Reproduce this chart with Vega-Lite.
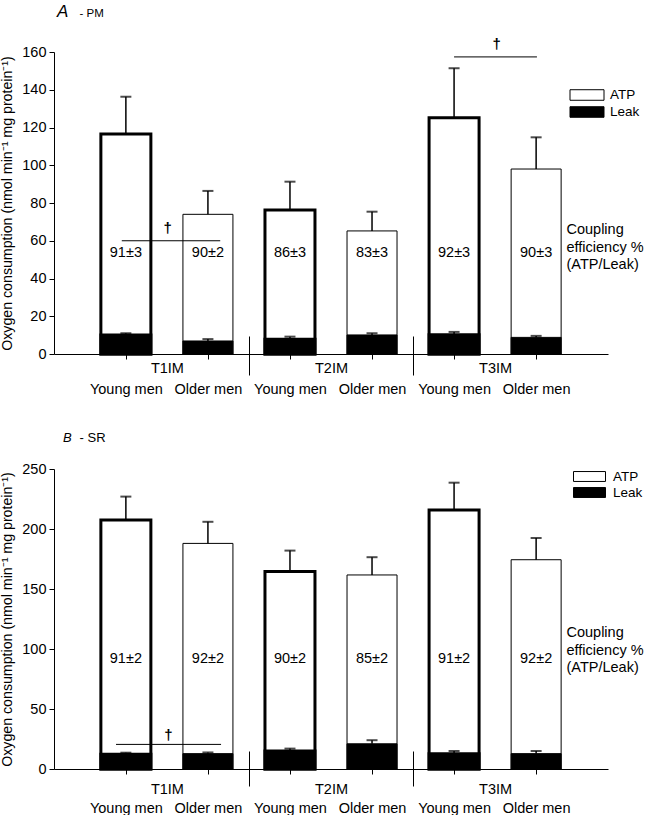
{
  "$schema": "https://vega.github.io/schema/vega-lite/v6.json",
  "padding": {"left": 0, "top": 3, "right": 0, "bottom": 0},
  "background": "white",
  "config": {
    "font": "Liberation Sans",
    "view": {"stroke": null},
    "axis": {"grid": false, "labelOverlap": false, "domainColor": "black", "tickColor": "black", "labelColor": "black", "titleColor": "black", "labelFontSize": 14.5, "titleFontSize": 14.2, "titleFontWeight": "normal", "domainWidth": 1, "tickWidth": 1},
    "legend": {"labelColor": "black", "padding": 0}
  },
  "datasets": {
    "pm": [
      {"group": "T1IM", "age": "Young men", "slot": 1, "part": "ATP", "value": 116.5, "upper": 136.3, "ce": "91±3"},
      {"group": "T1IM", "age": "Older men", "slot": 2, "part": "ATP", "value": 74, "upper": 86.4, "ce": "90±2"},
      {"group": "T2IM", "age": "Young men", "slot": 3, "part": "ATP", "value": 76.3, "upper": 91.3, "ce": "86±3"},
      {"group": "T2IM", "age": "Older men", "slot": 4, "part": "ATP", "value": 65.2, "upper": 75.4, "ce": "83±3"},
      {"group": "T3IM", "age": "Young men", "slot": 5, "part": "ATP", "value": 125.2, "upper": 151.4, "ce": "92±3"},
      {"group": "T3IM", "age": "Older men", "slot": 6, "part": "ATP", "value": 98, "upper": 114.8, "ce": "90±3"},
      {"group": "T1IM", "age": "Young men", "slot": 1, "part": "Leak", "value": 10.1, "upper": 11},
      {"group": "T1IM", "age": "Older men", "slot": 2, "part": "Leak", "value": 6.9, "upper": 7.9},
      {"group": "T2IM", "age": "Young men", "slot": 3, "part": "Leak", "value": 7.8, "upper": 9.2},
      {"group": "T2IM", "age": "Older men", "slot": 4, "part": "Leak", "value": 10.1, "upper": 11},
      {"group": "T3IM", "age": "Young men", "slot": 5, "part": "Leak", "value": 10.2, "upper": 11.7},
      {"group": "T3IM", "age": "Older men", "slot": 6, "part": "Leak", "value": 8.8, "upper": 9.6}
    ],
    "sr": [
      {"group": "T1IM", "age": "Young men", "slot": 1, "part": "ATP", "value": 207.5, "upper": 227, "ce": "91±2"},
      {"group": "T1IM", "age": "Older men", "slot": 2, "part": "ATP", "value": 188, "upper": 206, "ce": "92±2"},
      {"group": "T2IM", "age": "Young men", "slot": 3, "part": "ATP", "value": 164.5, "upper": 182, "ce": "90±2"},
      {"group": "T2IM", "age": "Older men", "slot": 4, "part": "ATP", "value": 161.7, "upper": 176.5, "ce": "85±2"},
      {"group": "T3IM", "age": "Young men", "slot": 5, "part": "ATP", "value": 215.8, "upper": 238.6, "ce": "91±2"},
      {"group": "T3IM", "age": "Older men", "slot": 6, "part": "ATP", "value": 174.4, "upper": 192.5, "ce": "92±2"},
      {"group": "T1IM", "age": "Young men", "slot": 1, "part": "Leak", "value": 12.2, "upper": 13.6},
      {"group": "T1IM", "age": "Older men", "slot": 2, "part": "Leak", "value": 12.8, "upper": 13.8},
      {"group": "T2IM", "age": "Young men", "slot": 3, "part": "Leak", "value": 15, "upper": 17},
      {"group": "T2IM", "age": "Older men", "slot": 4, "part": "Leak", "value": 21, "upper": 24},
      {"group": "T3IM", "age": "Young men", "slot": 5, "part": "Leak", "value": 12.8, "upper": 15},
      {"group": "T3IM", "age": "Older men", "slot": 6, "part": "Leak", "value": 12.8, "upper": 15}
    ],
    "sigA": [
      {"from": 0.95, "to": 2.15, "y": 60, "mx": 1.51, "my": 66.8},
      {"from": 5.0, "to": 6.01, "y": 157.4, "mx": 5.52, "my": 164.5}
    ],
    "sigB": [
      {"from": 0.88, "to": 2.16, "y": 20.5, "mx": 1.52, "my": 28.3}
    ],
    "note": [
      {"t": "Coupling\nefficiency %\n(ATP/Leak)"}
    ]
  },
  "resolve": {"scale": {"fill": "independent", "strokeWidth": "independent"}, "legend": {"fill": "independent"}},
  "spacing": 35,
  "vconcat": [
    {
      "width": 554,
      "height": 302,
      "resolve": {"axis": {"x": "independent"}},
      "layer": [
        {
          "data": {"name": "pm"},
          "mark": {"type": "bar", "size": 50, "stroke": "black"},
          "encoding": {
            "x": {"field": "slot", "type": "quantitative", "scale": {"domain": [0.185, 6.815], "nice": false, "zero": false},
              "axis": {"orient": "bottom", "values": [1, 2, 3, 4, 5, 6], "labelExpr": "datum.value % 2 == 1 ? 'Young men' : 'Older men'", "tickSize": 5, "labelPadding": 23, "title": null, "labelFlush": false}},
            "y": {"field": "value", "type": "quantitative", "stack": null, "scale": {"domain": [0, 160], "nice": false},
              "axis": {"values": [0, 20, 40, 60, 80, 100, 120, 140, 160], "tickSize": 5, "labelPadding": 3, "title": "Oxygen consumption (nmol min\u207b\u00b9 mg protein\u207b\u00b9)", "titlePadding": 7}},
            "fill": {"field": "part", "type": "nominal", "scale": {"domain": ["ATP", "Leak"], "range": ["white", "black"]},
              "legend": {"title": null, "orient": "none", "legendX": 524, "legendY": 34, "symbolType": "M-2,-0.62H2V0.62H-2Z", "symbolSize": 289, "symbolStrokeColor": "black", "symbolStrokeWidth": 1, "labelFontSize": 13.5, "labelOffset": 14, "rowPadding": 0}},
            "strokeWidth": {"field": "age", "type": "nominal", "scale": {"domain": ["Young men", "Older men"], "range": [3, 1]}, "legend": null}
          }
        },
        {
          "data": {"name": "pm"},
          "mark": {"type": "rule", "color": "black", "strokeWidth": 1.5},
          "encoding": {
            "x": {"field": "slot", "type": "quantitative",
              "axis": {"orient": "bottom", "values": [1.5, 3.5, 5.5], "labelExpr": "datum.value < 2 ? 'T1IM' : datum.value < 4 ? 'T2IM' : 'T3IM'", "ticks": false, "tickSize": 0, "domain": false, "labelPadding": 7, "title": null, "labelFlush": false}},
            "y": {"field": "value", "type": "quantitative",
              "axis": {"values": [0, 20, 40, 60, 80, 100, 120, 140, 160], "tickSize": 5, "labelPadding": 3, "title": "Oxygen consumption (nmol min\u207b\u00b9 mg protein\u207b\u00b9)", "titlePadding": 7}},
            "y2": {"field": "upper"}
          }
        },
        {
          "data": {"name": "pm"},
          "mark": {"type": "tick", "orient": "horizontal", "color": "black", "size": 11, "thickness": 2},
          "encoding": {
            "x": {"field": "slot", "type": "quantitative",
              "axis": {"orient": "bottom", "values": [2.5, 4.5], "labels": false, "domain": false, "tickSize": 21, "title": null}},
            "y": {"field": "upper", "type": "quantitative",
              "axis": {"values": [0, 20, 40, 60, 80, 100, 120, 140, 160], "tickSize": 5, "labelPadding": 3, "title": "Oxygen consumption (nmol min\u207b\u00b9 mg protein\u207b\u00b9)", "titlePadding": 7}}
          }
        },
        {
          "data": {"name": "pm"},
          "transform": [{"filter": "datum.part == 'ATP'"}],
          "mark": {"type": "text", "fontSize": 14.5, "color": "black", "baseline": "middle"},
          "encoding": {
            "x": {"field": "slot", "type": "quantitative",
              "axis": {"orient": "bottom", "values": [2.5, 4.5], "labels": false, "domain": false, "tickSize": -18, "title": null}},
            "y": {"datum": 53.5, "type": "quantitative",
              "axis": {"values": [0, 20, 40, 60, 80, 100, 120, 140, 160], "tickSize": 5, "labelPadding": 3, "title": "Oxygen consumption (nmol min\u207b\u00b9 mg protein\u207b\u00b9)", "titlePadding": 7}},
            "text": {"field": "ce"}
          }
        },
        {
          "data": {"name": "sigA"},
          "mark": {"type": "rule", "color": "black", "strokeWidth": 1},
          "encoding": {
            "x": {"field": "from", "type": "quantitative", "axis": null},
            "x2": {"field": "to"},
            "y": {"field": "y", "type": "quantitative",
              "axis": {"values": [0, 20, 40, 60, 80, 100, 120, 140, 160], "tickSize": 5, "labelPadding": 3, "title": "Oxygen consumption (nmol min\u207b\u00b9 mg protein\u207b\u00b9)", "titlePadding": 7}}
          }
        },
        {
          "data": {"name": "sigA"},
          "mark": {"type": "text", "text": "\u2020", "fontSize": 15, "fontWeight": "bold", "color": "black", "baseline": "middle"},
          "encoding": {
            "x": {"field": "mx", "type": "quantitative", "axis": null},
            "y": {"field": "my", "type": "quantitative",
              "axis": {"values": [0, 20, 40, 60, 80, 100, 120, 140, 160], "tickSize": 5, "labelPadding": 3, "title": "Oxygen consumption (nmol min\u207b\u00b9 mg protein\u207b\u00b9)", "titlePadding": 7}}
          }
        },
        {
          "data": {"name": "note"},
          "mark": {"type": "text", "align": "left", "baseline": "top", "fontSize": 14.5, "lineBreak": "\n", "lineHeight": 17.5, "color": "black"},
          "encoding": {
            "x": {"datum": 6.37, "type": "quantitative", "axis": null},
            "y": {"datum": 69.3, "type": "quantitative",
              "axis": {"values": [0, 20, 40, 60, 80, 100, 120, 140, 160], "tickSize": 5, "labelPadding": 3, "title": "Oxygen consumption (nmol min\u207b\u00b9 mg protein\u207b\u00b9)", "titlePadding": 7}},
            "text": {"field": "t"}
          }
        },
        {
          "data": {"values": [{"t": "A"}]},
          "mark": {"type": "text", "align": "left", "baseline": "alphabetic", "color": "black", "fontSize": 17, "fontStyle": "italic"},
          "encoding": {
            "x": {"datum": 0.161, "type": "quantitative", "axis": null},
            "y": {"datum": 178.5, "type": "quantitative",
              "axis": {"values": [0, 20, 40, 60, 80, 100, 120, 140, 160], "tickSize": 5, "labelPadding": 3, "title": "Oxygen consumption (nmol min\u207b\u00b9 mg protein\u207b\u00b9)", "titlePadding": 7}},
            "text": {"field": "t"}
          }
        },
        {
          "data": {"values": [{"t": "- PM"}]},
          "mark": {"type": "text", "align": "left", "baseline": "alphabetic", "color": "black", "fontSize": 11.5},
          "encoding": {
            "x": {"datum": 0.436, "type": "quantitative", "axis": null},
            "y": {"datum": 178.5, "type": "quantitative",
              "axis": {"values": [0, 20, 40, 60, 80, 100, 120, 140, 160], "tickSize": 5, "labelPadding": 3, "title": "Oxygen consumption (nmol min\u207b\u00b9 mg protein\u207b\u00b9)", "titlePadding": 7}},
            "text": {"field": "t"}
          }
        }
      ]
    },
    {
      "width": 554,
      "height": 300,
      "resolve": {"axis": {"x": "independent"}},
      "layer": [
        {
          "data": {"name": "sr"},
          "mark": {"type": "bar", "size": 50, "stroke": "black"},
          "encoding": {
            "x": {"field": "slot", "type": "quantitative", "scale": {"domain": [0.185, 6.815], "nice": false, "zero": false},
              "axis": {"orient": "bottom", "values": [1, 2, 3, 4, 5, 6], "labelExpr": "datum.value % 2 == 1 ? 'Young men' : 'Older men'", "tickSize": 5, "labelPadding": 27, "title": null, "labelFlush": false}},
            "y": {"field": "value", "type": "quantitative", "stack": null, "scale": {"domain": [0, 250], "nice": false},
              "axis": {"values": [0, 50, 100, 150, 200, 250], "tickSize": 5, "labelPadding": 3, "title": "Oxygen consumption (nmol min\u207b\u00b9 mg protein\u207b\u00b9)", "titlePadding": 7}},
            "fill": {"field": "part", "type": "nominal", "scale": {"domain": ["ATP", "Leak"], "range": ["white", "black"]},
              "legend": {"title": null, "orient": "none", "legendX": 527, "legendY": -1, "symbolType": "M-2,-0.62H2V0.62H-2Z", "symbolSize": 256, "symbolStrokeColor": "black", "symbolStrokeWidth": 1, "labelFontSize": 13.5, "labelOffset": 15, "rowPadding": 0}},
            "strokeWidth": {"field": "age", "type": "nominal", "scale": {"domain": ["Young men", "Older men"], "range": [3, 1]}, "legend": null}
          }
        },
        {
          "data": {"name": "sr"},
          "mark": {"type": "rule", "color": "black", "strokeWidth": 1.5},
          "encoding": {
            "x": {"field": "slot", "type": "quantitative",
              "axis": {"orient": "bottom", "values": [1.5, 3.5, 5.5], "labelExpr": "datum.value < 2 ? 'T1IM' : datum.value < 4 ? 'T2IM' : 'T3IM'", "ticks": false, "tickSize": 0, "domain": false, "labelPadding": 13, "title": null, "labelFlush": false}},
            "y": {"field": "value", "type": "quantitative",
              "axis": {"values": [0, 50, 100, 150, 200, 250], "tickSize": 5, "labelPadding": 3, "title": "Oxygen consumption (nmol min\u207b\u00b9 mg protein\u207b\u00b9)", "titlePadding": 7}},
            "y2": {"field": "upper"}
          }
        },
        {
          "data": {"name": "sr"},
          "mark": {"type": "tick", "orient": "horizontal", "color": "black", "size": 11, "thickness": 2},
          "encoding": {
            "x": {"field": "slot", "type": "quantitative",
              "axis": {"orient": "bottom", "values": [2.5, 4.5], "labels": false, "domain": false, "tickSize": 17, "title": null}},
            "y": {"field": "upper", "type": "quantitative",
              "axis": {"values": [0, 50, 100, 150, 200, 250], "tickSize": 5, "labelPadding": 3, "title": "Oxygen consumption (nmol min\u207b\u00b9 mg protein\u207b\u00b9)", "titlePadding": 7}}
          }
        },
        {
          "data": {"name": "sr"},
          "transform": [{"filter": "datum.part == 'ATP'"}],
          "mark": {"type": "text", "fontSize": 14.5, "color": "black", "baseline": "middle"},
          "encoding": {
            "x": {"field": "slot", "type": "quantitative",
              "axis": {"orient": "bottom", "values": [2.5, 4.5], "labels": false, "domain": false, "tickSize": -18, "title": null}},
            "y": {"datum": 91.5, "type": "quantitative",
              "axis": {"values": [0, 50, 100, 150, 200, 250], "tickSize": 5, "labelPadding": 3, "title": "Oxygen consumption (nmol min\u207b\u00b9 mg protein\u207b\u00b9)", "titlePadding": 7}},
            "text": {"field": "ce"}
          }
        },
        {
          "data": {"name": "sigB"},
          "mark": {"type": "rule", "color": "black", "strokeWidth": 1},
          "encoding": {
            "x": {"field": "from", "type": "quantitative", "axis": null},
            "x2": {"field": "to"},
            "y": {"field": "y", "type": "quantitative",
              "axis": {"values": [0, 50, 100, 150, 200, 250], "tickSize": 5, "labelPadding": 3, "title": "Oxygen consumption (nmol min\u207b\u00b9 mg protein\u207b\u00b9)", "titlePadding": 7}}
          }
        },
        {
          "data": {"name": "sigB"},
          "mark": {"type": "text", "text": "\u2020", "fontSize": 15, "fontWeight": "bold", "color": "black", "baseline": "middle"},
          "encoding": {
            "x": {"field": "mx", "type": "quantitative", "axis": null},
            "y": {"field": "my", "type": "quantitative",
              "axis": {"values": [0, 50, 100, 150, 200, 250], "tickSize": 5, "labelPadding": 3, "title": "Oxygen consumption (nmol min\u207b\u00b9 mg protein\u207b\u00b9)", "titlePadding": 7}}
          }
        },
        {
          "data": {"name": "note"},
          "mark": {"type": "text", "align": "left", "baseline": "top", "fontSize": 14.5, "lineBreak": "\n", "lineHeight": 17.5, "color": "black"},
          "encoding": {
            "x": {"datum": 6.37, "type": "quantitative", "axis": null},
            "y": {"datum": 118.8, "type": "quantitative",
              "axis": {"values": [0, 50, 100, 150, 200, 250], "tickSize": 5, "labelPadding": 3, "title": "Oxygen consumption (nmol min\u207b\u00b9 mg protein\u207b\u00b9)", "titlePadding": 7}},
            "text": {"field": "t"}
          }
        },
        {
          "data": {"values": [{"t": "B"}]},
          "mark": {"type": "text", "align": "left", "baseline": "alphabetic", "color": "black", "fontSize": 13, "fontStyle": "italic"},
          "encoding": {
            "x": {"datum": 0.233, "type": "quantitative", "axis": null},
            "y": {"datum": 272.5, "type": "quantitative",
              "axis": {"values": [0, 50, 100, 150, 200, 250], "tickSize": 5, "labelPadding": 3, "title": "Oxygen consumption (nmol min\u207b\u00b9 mg protein\u207b\u00b9)", "titlePadding": 7}},
            "text": {"field": "t"}
          }
        },
        {
          "data": {"values": [{"t": "- SR"}]},
          "mark": {"type": "text", "align": "left", "baseline": "alphabetic", "color": "black", "fontSize": 13},
          "encoding": {
            "x": {"datum": 0.436, "type": "quantitative", "axis": null},
            "y": {"datum": 272.5, "type": "quantitative",
              "axis": {"values": [0, 50, 100, 150, 200, 250], "tickSize": 5, "labelPadding": 3, "title": "Oxygen consumption (nmol min\u207b\u00b9 mg protein\u207b\u00b9)", "titlePadding": 7}},
            "text": {"field": "t"}
          }
        }
      ]
    }
  ]
}
